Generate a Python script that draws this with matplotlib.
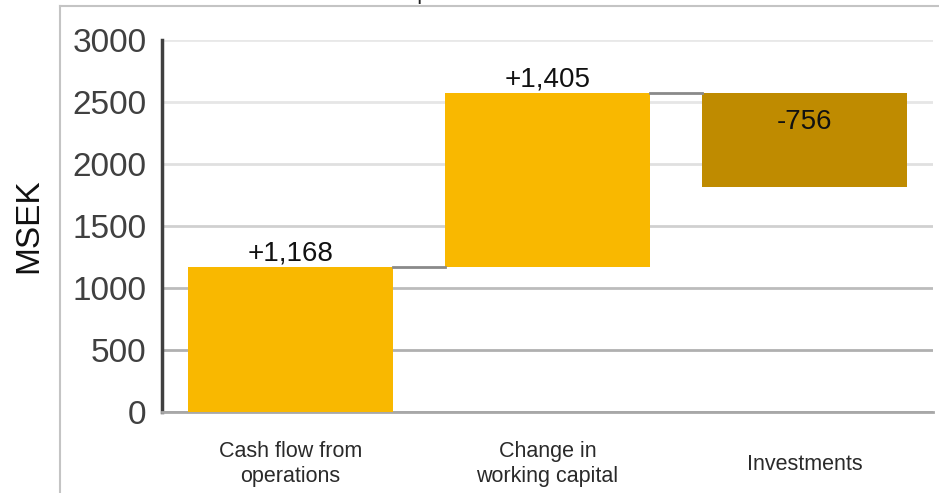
import matplotlib.pyplot as plt
from matplotlib.lines import Line2D

plt.rcParams['font.family'] = ['Liberation Sans', 'DejaVu Sans']

categories = ['Cash flow from\noperations', 'Change in\nworking capital', 'Investments']
changes = [1168, 1405, -756]
labels = ['+1,168', '+1,405', '-756']
colors = ['#F9B800', '#F9B800', '#BF8B00']

fig = plt.figure(figsize=(9.39, 4.93), dpi=100)
ax = fig.add_axes([0.1725, 0.1643, 0.821, 0.7546])

# running totals for the waterfall
starts = []
total = 0
for c in changes:
    starts.append(total)
    total += c

x = list(range(len(changes)))
ax.bar(x, changes, bottom=starts, width=0.8, color=colors, zorder=3)

# connectors between consecutive bars
for i in range(len(changes) - 1):
    level = starts[i] + changes[i]
    ax.plot([i + 0.4, i + 0.6], [level, level], color='#8a8a8a', lw=2, zorder=4)

# value labels
for i, (s, c, lab) in enumerate(zip(starts, changes, labels)):
    if c >= 0:
        ax.text(i, s + c + 5, lab, ha='center', va='bottom', fontsize=20, color='#111111')
    else:
        ax.text(i, s - 235, lab, ha='center', va='center', fontsize=20, color='#111111')

ax.set_xlim(-0.5, 2.5)
ax.set_ylim(0, 3000)
ax.set_yticks(range(0, 3001, 500))
ax.tick_params(axis='y', labelsize=24, labelcolor='#404040', length=0, pad=11)
ax.tick_params(axis='x', length=0, pad=0)
ax.set_xticks(x)
ax.set_xticklabels([])
for i, cat in enumerate(categories):
    ax.text(i, -420, cat, ha='center', va='center', fontsize=15.5,
            color='#2a2a2a', linespacing=1.3)

# gridlines get darker towards the bottom
grid_colors = ['#a8a8a8', '#b0b0b0', '#bcbcbc', '#d0d0d0', '#e0e0e0', '#e6e6e6', '#e8e8e8']
for v, gc in zip(range(0, 3001, 500), grid_colors):
    ax.axhline(v, color=gc, lw=2, zorder=1)

for side in ['top', 'right']:
    ax.spines[side].set_visible(False)
ax.spines['bottom'].set_color('#a8a8a8')
ax.spines['bottom'].set_linewidth(2)
ax.spines['left'].set_color('#404040')
ax.spines['left'].set_linewidth(2.5)

ax.set_ylabel('MSEK', fontsize=24, color='#111111')
ax.yaxis.set_label_coords(-0.153, 0.5)

# outer frame
frame = '#c4c4c4'
fig.add_artist(Line2D([60 / 939, 60 / 939], [0, 1 - 6 / 493], color=frame, lw=1.5,
                      transform=fig.transFigure))
fig.add_artist(Line2D([60 / 939, 1], [1 - 6 / 493, 1 - 6 / 493], color=frame, lw=1.5,
                      transform=fig.transFigure))

fig.text(0.54, 1 + 1 / 493, 'Operational cash flow', ha='center', va='baseline',
         fontsize=16, color='#222222')

fig.savefig('out.png', dpi=100)
